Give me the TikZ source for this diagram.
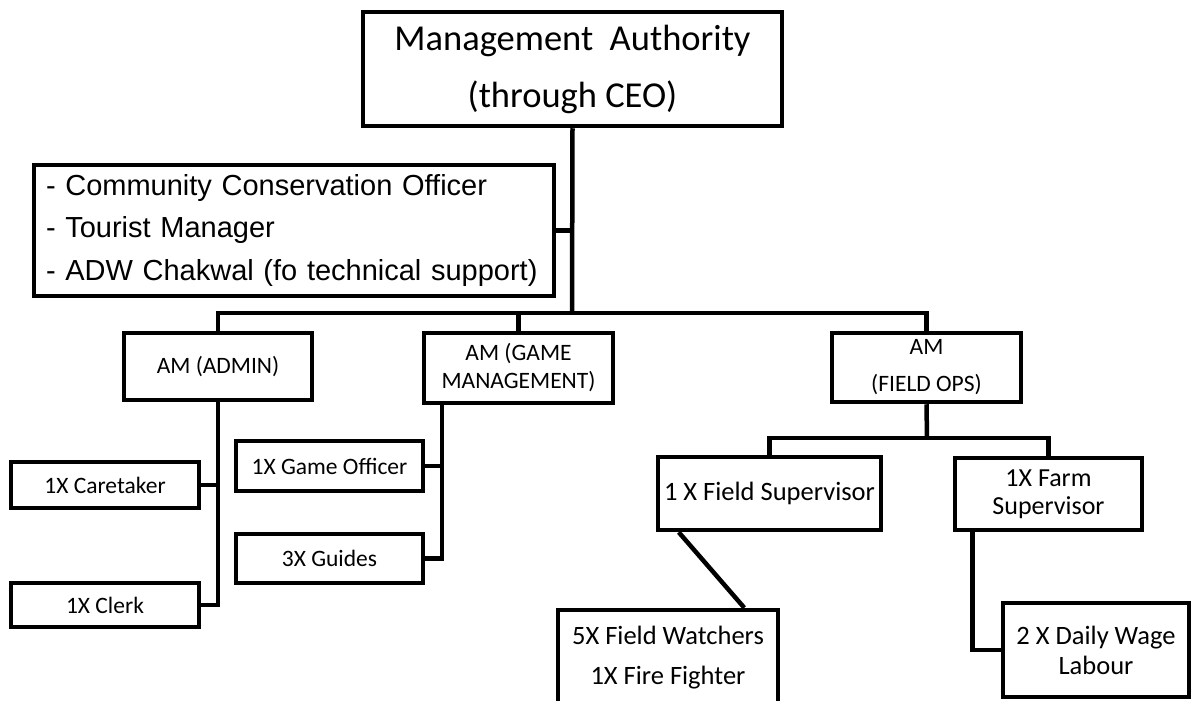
\documentclass[tikz,border=0pt]{standalone}
\usepackage{fontspec}
\setmainfont{Carlito}
\newfontfamily\arialf{Liberation Sans}
\begin{document}
\begin{tikzpicture}[x=1pt,y=-1pt,
  box/.style={draw, line width=4.5pt, inner sep=0pt, align=center},
  wire/.style={line width=4.5pt},
  fs/.style 2 args={font=\fontsize{#1}{#2}\selectfont}]
\useasboundingbox (0,0) rectangle (1192,701);
\clip (0,0) rectangle (1192,701);
\fill[white] (0,0) rectangle (1192,701);

\node[box, fs={36.5}{57}, minimum width=419pt, minimum height=114pt] (top) at (572.5,69) {Management\ \ Authority\\(through CEO)};
\node[box, minimum width=520pt, minimum height=131pt, text width=496pt, align=left, font=\arialf\fontsize{29}{42.5}\selectfont] (staff) at (294,230.5) {- Community Conservation Officer\\- Tourist Manager\\- ADW Chakwal (fo technical support)};

\node[box, fs={23.5}{28}, minimum width=188pt, minimum height=67pt] (admin) at (218,366.5) {AM (ADMIN)};
\node[box, fs={23.5}{28}, minimum width=189pt, minimum height=70pt] (game) at (518.5,368) {AM (GAME\\MANAGEMENT)};
\node[box, fs={23.5}{37}, minimum width=189pt, minimum height=69pt] (fieldops) at (926.5,367.5) {AM\\(FIELD OPS)};

\node[box, fs={23.5}{28}, minimum width=188pt, minimum height=46pt] (caretaker) at (105,485) {1X Caretaker};
\node[box, fs={23.5}{28}, minimum width=188pt, minimum height=44pt] (clerk) at (105,605) {1X Clerk};
\node[box, fs={23.5}{28}, minimum width=187pt, minimum height=50pt] (officer) at (329.5,466) {1X Game Officer};
\node[box, fs={23.5}{28}, minimum width=187pt, minimum height=49pt] (guides) at (329.5,558.5) {3X Guides};

\node[box, fs={26.5}{30}, minimum width=223pt, minimum height=73pt] (fieldsup) at (769.5,493.5) {1 X Field Supervisor};
\node[box, fs={26}{27.6}, minimum width=187pt, minimum height=72pt] (farmsup) at (1048.5,494) {1X Farm\\Supervisor};
\node[box, fs={26.5}{40}, minimum width=220pt, minimum height=96pt] (watchers) at (668,658) {5X Field Watchers\\1X Fire Fighter};
\node[box, fs={26.5}{30}, minimum width=186pt, minimum height=94pt] (daily) at (1096,650) {2 X Daily Wage\\Labour};

\coordinate (j1) at (572,313);
\coordinate (j2) at (927,438);

\draw[wire] (top.south) -- (j1);
\draw[wire] (staff.east) -- (staff.east -| top.south);
\draw[wire] (admin.north) |- (j1) -| (fieldops.north);
\draw[wire] (game.north) -- (game.north |- j1);

\draw[wire] (admin.south) |- (clerk.east);
\draw[wire] (caretaker.east) -- (caretaker.east -| admin.south);

\coordinate (g1) at ([xshift=20pt]game.south west);
\draw[wire] (g1) |- (guides.east);
\draw[wire] (officer.east) -- (officer.east -| g1);

\draw[wire] (fieldops.south) -- (j2);
\draw[wire] (fieldsup.north) |- (j2) -| (farmsup.north);
\draw[wire] ([xshift=23pt]fieldsup.south west) -- ([xshift=-36pt]watchers.north east);
\draw[wire] ([xshift=19.5pt]farmsup.south west) |- (daily.west);
\end{tikzpicture}
\end{document}
